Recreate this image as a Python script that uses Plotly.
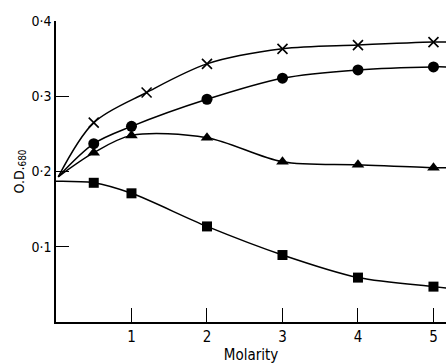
import plotly.graph_objects as go

# Marker data (Molarity vs O.D.680)
x_cross = [0.5, 1.2, 2, 3, 4, 5]
y_cross = [0.265, 0.305, 0.343, 0.363, 0.368, 0.372]
x_pts = [0.5, 1, 2, 3, 4, 5]
y_circle = [0.237, 0.260, 0.296, 0.324, 0.335, 0.339]
y_tri = [0.225, 0.248, 0.245, 0.213, 0.209, 0.205]
y_square = [0.185, 0.171, 0.127, 0.089, 0.059, 0.047]

# Smooth curve start / end values
x_start = 0.03
start_main = 0.193
start_square = 0.187
x_end = 5.17
end_cross = 0.372
end_circle = 0.339
end_tri = 0.205
end_square = 0.045

x_ticks = [1, 2, 3, 4, 5]
x_ticklabels = ["1", "2", "3", "4", "5"]
y_ticks = [0.1, 0.2, 0.3, 0.4]
y_ticklabels = ["0·1", "0·2", "0·3", "0·4"]

FONT = "DejaVu Sans Condensed, Liberation Sans Narrow, DejaVu Sans, Arial"

fig = go.Figure()

def curve(xs, ys, x0, y0, x1, y1):
    fig.add_trace(go.Scatter(
        x=[x0] + list(xs) + [x1], y=[y0] + list(ys) + [y1],
        mode="lines", line=dict(color="black", width=1.5, shape="spline", smoothing=0.9),
        hoverinfo="skip", showlegend=False))

curve(x_cross, y_cross, x_start, start_main, x_end, end_cross)
curve(x_pts, y_circle, x_start, start_main, x_end, end_circle)
curve(x_pts, y_tri, x_start, start_main, x_end, end_tri)
curve(x_pts, y_square, 0.0, start_square, x_end, end_square)

fig.add_trace(go.Scatter(x=x_cross, y=y_cross, mode="markers",
    marker=dict(symbol="x-thin-open", size=10, line=dict(color="black", width=1.6), color="black"),
    showlegend=False))
fig.add_trace(go.Scatter(x=x_pts, y=y_circle, mode="markers",
    marker=dict(symbol="circle", size=11, color="black"), showlegend=False))
fig.add_trace(go.Scatter(x=x_pts, y=y_tri, mode="markers",
    marker=dict(symbol="triangle-up", size=11, color="black"), showlegend=False))
fig.add_trace(go.Scatter(x=x_pts, y=y_square, mode="markers",
    marker=dict(symbol="square", size=10, color="black"), showlegend=False))

fig.update_layout(
    width=446, height=364,
    margin=dict(l=56, r=0, t=21, b=42),
    paper_bgcolor="white", plot_bgcolor="white",
    font=dict(family=FONT, color="black", size=14),
    xaxis=dict(range=[0, 5.166], showgrid=False, zeroline=False,
               showline=True, linecolor="black", linewidth=1.5,
               ticks="inside", ticklen=14, tickwidth=1.2, tickcolor="black",
               tickvals=x_ticks, ticktext=x_ticklabels,
               tickfont=dict(family=FONT, size=15),
               title=dict(text="Molarity", standoff=2, font=dict(family=FONT, size=15))),
    yaxis=dict(range=[0, 0.4], showgrid=False, zeroline=False,
               showline=True, linecolor="black", linewidth=1.5,
               ticks="inside", ticklen=13, tickwidth=1.2, tickcolor="black",
               tickvals=y_ticks, ticktext=y_ticklabels,
               tickfont=dict(family=FONT, size=14),
               title=dict(text="O.D.<sub>680</sub>", standoff=4, font=dict(family=FONT, size=14))),
)

fig.write_html("out.html")
